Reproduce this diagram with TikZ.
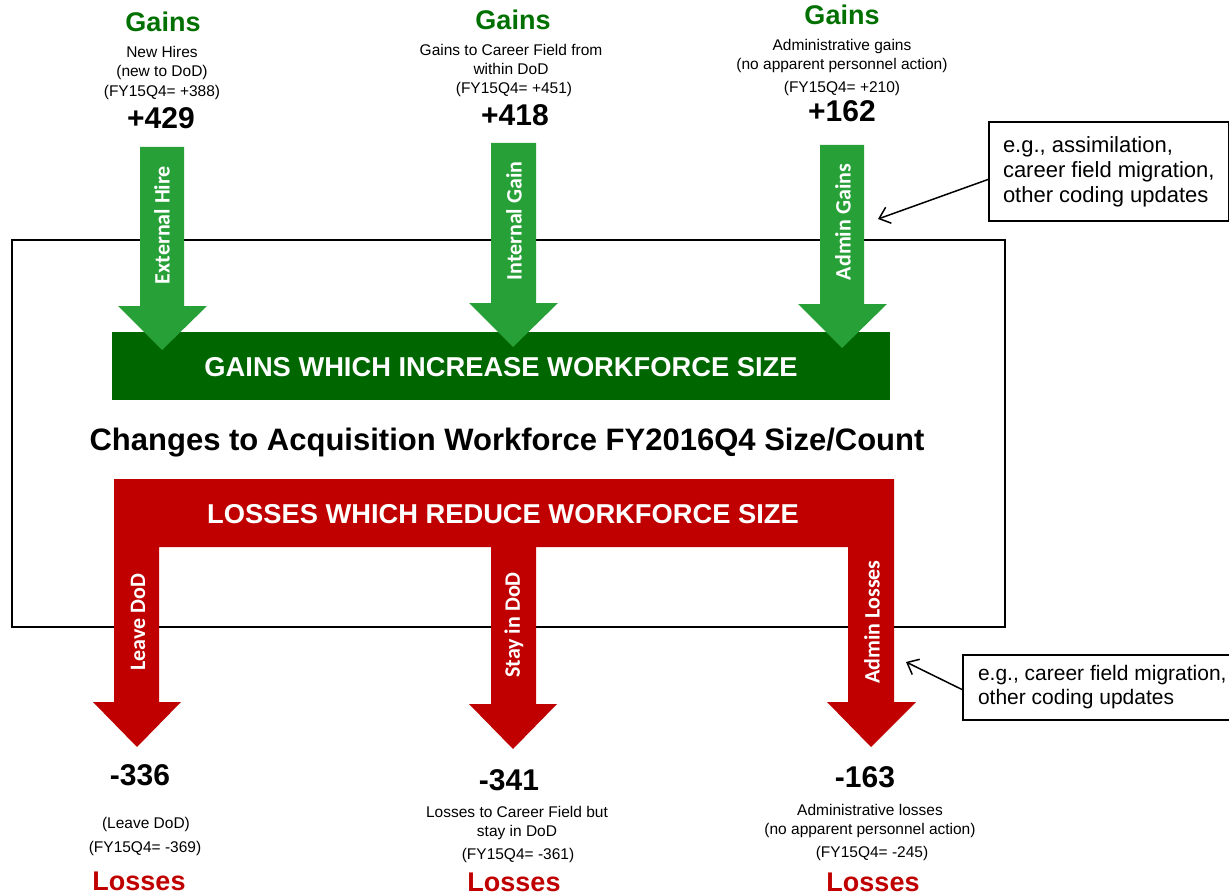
\documentclass[tikz,border=0pt]{standalone}
\usepackage{fontspec}
\setmainfont{Liberation Sans}
\newfontfamily\calib{Carlito}
\usetikzlibrary{arrows.meta}
\definecolor{gainlight}{RGB}{40,160,56}
\definecolor{gaindark}{RGB}{0,102,0}
\definecolor{gaintext}{RGB}{0,112,0}
\definecolor{lossred}{RGB}{192,0,0}
\begin{document}
\begin{tikzpicture}[x=1pt,y=-1pt,
  txt/.style={inner sep=0pt, anchor=center, align=center},
  small/.style={txt, font=\fontsize{15.5}{19}\selectfont},
  bignum/.style={txt, font=\fontsize{30}{33}\selectfont\bfseries},
  gainhead/.style={txt, font=\fontsize{27}{30}\selectfont\bfseries, text=gaintext},
  losshead/.style={txt, font=\fontsize{27}{30}\selectfont\bfseries, text=lossred},
  arrlabel/.style={txt, rotate=90, text=white, font=\fontsize{22}{25}\selectfont\calib\bfseries},
  bartext/.style={txt, text=white, font=\fontsize{27.3}{30}\selectfont\bfseries},
  callout/.style={draw, line width=2pt, inner xsep=14pt, inner ysep=6pt, align=left,
    anchor=west, font=\fontsize{22}{25}\selectfont},
  pointer/.style={line width=1.5pt, -{Straight Barb[length=10pt,width=17pt,line width=1.5pt]}}
]
\useasboundingbox (0,0) rectangle (1229,896);

% frame
\node[draw, line width=2.8pt, minimum width=993pt, minimum height=387pt, inner sep=0pt] (frame) at (508.5,433.5) {};

% gains bar
\node[fill=gaindark, minimum width=778pt, minimum height=68pt, inner sep=0pt] (gbar) at (501,366) {};
\node[bartext] (gbartxt) at (501,367) {GAINS WHICH INCREASE WORKFORCE SIZE};

% green arrows
\fill[gainlight] (140,147) -- (184,147) -- (184,306) -- (207,306) -- (162,350) -- (118,306) -- (140,306) -- cycle;
\fill[gainlight] (491,143) -- (536,143) -- (536,303) -- (558,303) -- (513,347) -- (469,303) -- (491,303) -- cycle;
\fill[gainlight] (820,145) -- (864,145) -- (864,304) -- (887,304) -- (842,348) -- (798,304) -- (820,304) -- cycle;
\node[arrlabel] (a1) at (162,225) {External Hire};
\node[arrlabel] (a2) at (514,221) {Internal Gain};
\node[arrlabel] (a3) at (843,222) {Admin Gains};

% title
\node[txt, font=\fontsize{31}{34}\selectfont\bfseries] (title) at (507,443) {Changes to Acquisition Workforce FY2016Q4 Size/Count};

% red comb with arrows
\fill[lossred] (114,479) -- (894,479) -- (894,702) -- (916,702) -- (871,747) -- (827,702) -- (848,702)
  -- (848,547) -- (536,547) -- (536,704) -- (557,704) -- (513,749) -- (469,704) -- (491,704)
  -- (491,547) -- (159,547) -- (159,702) -- (181,702) -- (137,747) -- (93,702) -- (114,702) -- cycle;
\node[bartext] (lbartxt) at (503,514) {LOSSES WHICH REDUCE WORKFORCE SIZE};
\node[arrlabel] (l1) at (138,622) {Leave DoD};
\node[arrlabel] (l2) at (514,625) {Stay in DoD};
\node[arrlabel] (l3) at (872,622) {Admin Losses};

% gains texts
\node[gainhead] (g1) at (163,22) {Gains};
\node[small] (g1d) at (162,62.5) {New Hires\\(new to DoD)};
\node[small] (g1f) at (162,92) {(FY15Q4= +388)};
\node[bignum] (g1n) at (161,118) {+429};

\node[gainhead] (g2) at (513,20) {Gains};
\node[small] (g2d) at (511,59) {Gains to Career Field from\\within DoD};
\node[small] (g2f) at (514,89) {(FY15Q4= +451)};
\node[bignum] (g2n) at (515,115) {+418};

\node[gainhead] (g3) at (842,15) {Gains};
\node[small] (g3d) at (842,56) {Administrative gains\\(no apparent personnel action)};
\node[small] (g3f) at (842,88) {(FY15Q4= +210)};
\node[bignum] (g3n) at (842,111) {+162};

% losses texts
\node[bignum] (n1) at (140,775) {-336};
\node[small] (d1) at (146,824) {(Leave DoD)};
\node[small] (f1) at (145,848) {(FY15Q4= -369)};
\node[losshead] (h1) at (139,881) {Losses};

\node[bignum] (n2) at (509,780) {-341};
\node[small] (d2) at (517,823) {Losses to Career Field but\\stay in DoD};
\node[small] (f2) at (518,855) {(FY15Q4= -361)};
\node[losshead] (h2) at (514,882) {Losses};

\node[bignum] (n3) at (865,777) {-163};
\node[small] (d3) at (870,821) {Administrative losses\\(no apparent personnel action)};
\node[small] (f3) at (872,853) {(FY15Q4= -245)};
\node[losshead] (h3) at (873,882) {Losses};

% callouts
\node[callout, minimum width=239pt, minimum height=99pt] (c1) at (988,171.5) {e.g., assimilation,\\career field migration,\\other coding updates};
\coordinate (c1tip) at (878,219);
\draw[pointer] ([yshift=-8pt]c1.west) -- (c1tip);

\node[callout, minimum height=65pt, inner xsep=15pt, font=\fontsize{21}{24}\selectfont] (c2) at (962,687.5) {e.g., career field migration,\\other coding updates};
\coordinate (c2tip) at (906,662);
\draw[pointer] ([yshift=-2pt]c2.west) -- (c2tip);
\end{tikzpicture}
\end{document}
